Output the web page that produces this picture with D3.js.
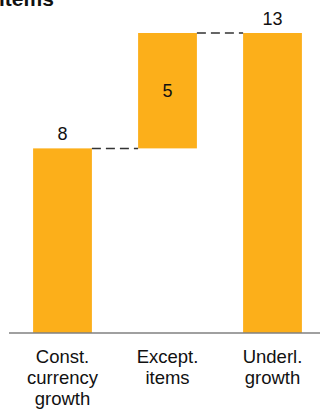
<!DOCTYPE html>
<html>
<head>
<meta charset="utf-8">
<script src="https://cdn.jsdelivr.net/npm/d3@7"></script>
<style>
  html, body { margin: 0; padding: 0; background: #fff; }
  svg { display: block; font-family: "Liberation Sans", Arial, sans-serif; }
</style>
</head>
<body>
<svg id="chart" width="320" height="410"></svg>
<script>
// Growth bridge: constant-currency growth + exceptional items = underlying growth
const categories = [["Const.", "currency", "growth"], ["Except.", "items"], ["Underl.", "growth"]];
const values = [8, 5, 13];
const kinds = ["base", "step", "total"];
const titleLine = "items";

const svg = d3.select("#chart");
const W = 320, baseY = 333;

const x = d3.scaleBand()
  .domain(d3.range(values.length))
  .range([10, 325])
  .paddingInner(0.44)
  .paddingOuter(0.22);

const y = d3.scaleLinear().domain([0, 13]).range([baseY, 33]);

// start/end of every bar in the bridge
let running = 0;
const bars = values.map((v, i) => {
  let lo, hi;
  if (kinds[i] === "step") { lo = running; hi = running + v; }
  else { lo = 0; hi = v; }
  running = hi;
  return { i, v, lo, hi, kind: kinds[i] };
});

// title (second line of a wrapped heading)
svg.append("text")
  .attr("x", -1).attr("y", 6)
  .attr("font-size", 21).attr("font-weight", "bold")
  .attr("fill", "#111")
  .text(titleLine);

// bars
svg.append("g").selectAll("rect")
  .data(bars).join("rect")
  .attr("x", d => x(d.i))
  .attr("width", x.bandwidth())
  .attr("y", d => y(d.hi))
  .attr("height", d => y(d.lo) - y(d.hi))
  .attr("fill", "#FCAF1A");

// dashed connectors between consecutive bars
const links = bars.slice(0, -1).map((d, k) => ({
  x1: x(d.i) + x.bandwidth(),
  x2: x(bars[k + 1].i),
  yv: d.hi
}));
svg.append("g").selectAll("line")
  .data(links).join("line")
  .attr("x1", d => d.x1).attr("x2", d => d.x2)
  .attr("y1", d => y(d.yv)).attr("y2", d => y(d.yv))
  .attr("stroke", "#333").attr("stroke-width", 1.5)
  .attr("stroke-dasharray", "9,5");

// baseline
svg.append("line")
  .attr("x1", 9).attr("x2", W)
  .attr("y1", baseY).attr("y2", baseY)
  .attr("stroke", "#808080").attr("stroke-width", 1.6);

// value labels
svg.append("g").selectAll("text")
  .data(bars).join("text")
  .attr("x", d => x(d.i) + x.bandwidth() / 2)
  .attr("y", d => d.kind === "step" ? (y(d.lo) + y(d.hi)) / 2 + 6 : y(d.hi) - 8)
  .attr("text-anchor", "middle")
  .attr("font-size", 18)
  .attr("fill", "#111")
  .text(d => d.v);

// category labels
const cat = svg.append("g").selectAll("text")
  .data(categories).join("text")
  .attr("x", (d, i) => x(i) + x.bandwidth() / 2)
  .attr("y", 363)
  .attr("text-anchor", "middle")
  .attr("font-size", 18.5)
  .attr("fill", "#111");
cat.selectAll("tspan")
  .data(d => d).join("tspan")
  .attr("x", function () { return d3.select(this.parentNode).attr("x"); })
  .attr("dy", (d, j) => j === 0 ? 0 : 21)
  .text(d => d);
</script>
</body>
</html>
